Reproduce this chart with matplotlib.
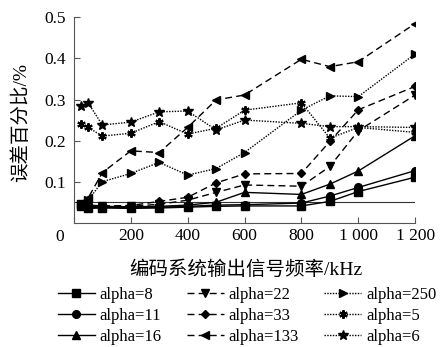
import matplotlib
matplotlib.use("Agg")
import matplotlib.pyplot as plt
import numpy as np

plt.rcParams['font.family'] = ['Liberation Serif', 'Noto Sans CJK SC']
plt.rcParams['axes.unicode_minus'] = False

# data
freq = [25, 50, 100, 200, 300, 400, 500, 600, 800, 900, 1000, 1200]
alpha8 = [0.040, 0.035, 0.036, 0.035, 0.036, 0.038, 0.040, 0.041, 0.041, 0.052, 0.076, 0.111]
alpha11 = [0.042, 0.037, 0.038, 0.037, 0.038, 0.040, 0.043, 0.044, 0.048, 0.065, 0.086, 0.127]
alpha16 = [0.044, 0.040, 0.040, 0.039, 0.040, 0.043, 0.050, 0.074, 0.069, 0.094, 0.126, 0.212]
alpha22 = [0.045, 0.042, 0.040, 0.040, 0.045, 0.055, 0.074, 0.092, 0.089, 0.137, 0.224, 0.311]
alpha33 = [0.046, 0.043, 0.041, 0.042, 0.052, 0.062, 0.097, 0.119, 0.120, 0.198, 0.275, 0.332]
alpha133 = [0.048, 0.060, 0.122, 0.175, 0.171, 0.232, 0.299, 0.311, 0.398, 0.380, 0.392, 0.485]
alpha250 = [0.045, 0.055, 0.100, 0.120, 0.147, 0.116, 0.132, 0.171, 0.274, 0.309, 0.307, 0.411]
alpha5 = [0.240, 0.232, 0.211, 0.218, 0.246, 0.216, 0.230, 0.274, 0.292, 0.206, 0.232, 0.220]
alpha6 = [0.285, 0.292, 0.238, 0.245, 0.270, 0.272, 0.226, 0.250, 0.242, 0.234, 0.234, 0.232]
ref_level = 0.05

labels = ['alpha=8', 'alpha=11', 'alpha=16', 'alpha=22', 'alpha=33',
          'alpha=133', 'alpha=250', 'alpha=5', 'alpha=6']
xticks = [0, 200, 400, 600, 800, 1000, 1200]
xticklabels = ['', '200', '400', '600', '800', '1 000', '1 200']
yticks = [0.1, 0.2, 0.3, 0.4, 0.5]

series = [alpha8, alpha11, alpha16, alpha22, alpha33, alpha133, alpha250, alpha5, alpha6]
markers = ['s', 'o', '^', 'v', 'D', '<', '>', (6, 2, 0), '*']
msizes = [5.5, 5.5, 5.5, 5.5, 4, 5.5, 5.5, 6, 7.5]
styles = ['-', '-', '-', (0, (5, 3)), (0, (5, 3)), (0, (5, 3)),
          (0, (1, 1)), (0, (1, 1)), (0, (1, 1))]

fig = plt.figure(figsize=(4.45, 3.47), dpi=100)
ax = fig.add_axes([0.166, 0.358, 0.767, 0.592])

ax.plot([0, 1200], [ref_level, ref_level], color='#333333', lw=0.8)

for y, m, ms, ls, lab in zip(series, markers, msizes, styles, labels):
    ax.plot(freq, y, color='black', lw=1.0, ls=ls, marker=m, ms=ms,
            mew=1.5 if m == (6, 2, 0) else 1.0, label=lab)

ax.set_xlim(0, 1200)
ax.set_ylim(0, 0.5)
ax.set_xticks(xticks)
ax.set_xticklabels(xticklabels)
ax.set_yticks(yticks)
ax.set_yticklabels(['0.1', '0.2', '0.3', '0.4', '0.5'])
ax.tick_params(direction='in', length=4, width=0.8, color='#555555', labelsize=12.5)
ax.tick_params(axis='x', pad=4)
ax.tick_params(axis='y', pad=6)
for s in ['top', 'right']:
    ax.spines[s].set_visible(False)
for s in ['left', 'bottom']:
    ax.spines[s].set_color('#555555')
    ax.spines[s].set_linewidth(0.8)

fig.text(60 / 445, 1 - 237 / 347, '0', ha='center', va='center', fontsize=12.5)

fig.text(21 / 445, 1 - 123 / 347, '误差百分比/%', rotation=90, ha='center', va='center',
         fontsize=14)
fig.text(246 / 445, 1 - 270 / 347, '编码系统输出信号频率/kHz', ha='center', va='center',
         fontsize=14)

fig.legend(loc='upper left', bbox_to_anchor=(58 / 445, 1 - 287 / 347), ncol=3,
           frameon=False, fontsize=12, handlelength=2.2, handletextpad=0.3,
           columnspacing=1.52, labelspacing=0.3, borderpad=0, borderaxespad=0)

fig.savefig('out.png', dpi=100)
